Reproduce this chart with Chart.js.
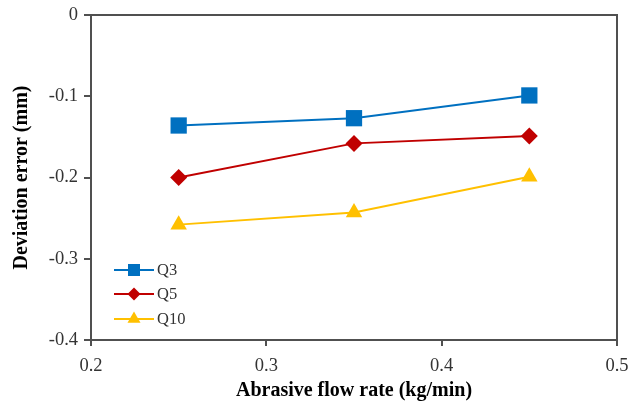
<!DOCTYPE html>
<html>
<head>
<meta charset="utf-8">
<script src="https://cdn.jsdelivr.net/npm/chart.js@4/dist/chart.umd.min.js"></script>
<style>
  html, body { margin: 0; padding: 0; background: #fff; }
  #wrap { width: 630px; height: 403px; position: relative; }
</style>
</head>
<body>
<div id="wrap"><canvas id="c" width="630" height="403"></canvas></div>
<script>
// Abrasive flow rate (kg/min) at which each series was measured
const flowRates = [0.25, 0.35, 0.45];
// Deviation error (mm) per series
const q3Values  = [-0.136, -0.127, -0.099];
const q5Values  = [-0.200, -0.158, -0.149];
const q10Values = [-0.258, -0.243, -0.199];
// Axis ticks
const xTicks = [0.2, 0.3, 0.4, 0.5];
const yTicks = [0, -0.1, -0.2, -0.3, -0.4];

const seriesNames  = ['Q3', 'Q5', 'Q10'];
const seriesValues = [q3Values, q5Values, q10Values];
const seriesColors = ['#0070C0', '#C00000', '#FFC000'];
const seriesShapes = ['rect', 'rectRot', 'triangle'];
const seriesRadius = [11.5, 8.5, 9.5];
const legendRadius = [8.5, 6.5, 7.5];

const AXIS_COLOR = '#505050';
const SERIF = "'Liberation Serif', 'Times New Roman', serif";

const datasets = seriesNames.map((name, i) => ({
  label: name,
  data: flowRates.map((x, j) => ({ x: x, y: seriesValues[i][j] })),
  borderColor: seriesColors[i],
  backgroundColor: seriesColors[i],
  pointBackgroundColor: seriesColors[i],
  pointBorderColor: seriesColors[i],
  pointStyle: seriesShapes[i],
  pointRadius: seriesRadius[i],
  pointHoverRadius: seriesRadius[i],
  pointBorderWidth: 0,
  borderWidth: 2,
  tension: 0,
  fill: false,
  legendRadius: legendRadius[i]
}));

// Closes the plot box on the top and right edges
const frame = {
  id: 'frame',
  beforeDatasetsDraw(chart) {
    const { ctx, chartArea: a } = chart;
    ctx.save();
    ctx.strokeStyle = AXIS_COLOR;
    ctx.lineWidth = 2;
    ctx.beginPath();
    ctx.moveTo(a.left, a.top);
    ctx.lineTo(a.right, a.top);
    ctx.lineTo(a.right, a.bottom);
    ctx.stroke();
    ctx.restore();
  }
};

// Legend drawn inside the plot, lower-left corner
const innerLegend = {
  id: 'innerLegend',
  afterDatasetsDraw(chart) {
    const { ctx, chartArea: a } = chart;
    const x0 = a.left + 23, x1 = a.left + 63;
    const rows = [a.top + 255, a.top + 279, a.top + 304];
    ctx.save();
    chart.data.datasets.forEach((ds, i) => {
      const y = rows[i];
      ctx.strokeStyle = ds.borderColor;
      ctx.lineWidth = 2;
      ctx.beginPath();
      ctx.moveTo(x0, y);
      ctx.lineTo(x1, y);
      ctx.stroke();
      ctx.fillStyle = ds.backgroundColor;
      ctx.strokeStyle = ds.backgroundColor;
      ctx.lineWidth = 0.01;
      Chart.helpers.drawPoint(ctx, { pointStyle: ds.pointStyle, radius: ds.legendRadius, rotation: 0, borderWidth: 0 }, (x0 + x1) / 2, y);
      ctx.fillStyle = '#333';
      ctx.font = '16.5px ' + SERIF;
      ctx.textAlign = 'left';
      ctx.textBaseline = 'middle';
      ctx.fillText(ds.label, x1 + 3, y + 1);
    });
    ctx.restore();
  }
};

new Chart(document.getElementById('c'), {
  type: 'line',
  data: { datasets },
  plugins: [frame, innerLegend],
  options: {
    responsive: false,
    animation: false,
    layout: { padding: { top: 15, right: 13, left: 0, bottom: 0 } },
    plugins: { legend: { display: false }, tooltip: { enabled: false } },
    scales: {
      x: {
        type: 'linear',
        min: 0.2, max: 0.5,
        afterBuildTicks(s) { s.ticks = xTicks.map(v => ({ value: v })); },
        afterFit(s) { s.height = 63; s.paddingLeft = 0; s.paddingRight = 0; },
        ticks: {
          callback: v => Number(v).toFixed(1),
          color: '#333',
          font: { family: SERIF, size: 18.5 },
          padding: 9,
          maxRotation: 0
        },
        grid: { drawOnChartArea: false, drawTicks: true, tickLength: 6, color: AXIS_COLOR, lineWidth: 2 },
        border: { display: true, color: AXIS_COLOR, width: 2 },
        title: {
          display: true,
          text: 'Abrasive flow rate (kg/min)',
          color: '#000',
          font: { family: SERIF, size: 20, weight: 'bold' },
          padding: { top: 0, bottom: 0 }
        }
      },
      y: {
        type: 'linear',
        min: -0.4, max: 0,
        afterBuildTicks(s) { s.ticks = yTicks.slice().reverse().map(v => ({ value: v })); },
        afterFit(s) { s.width = 91; s.paddingTop = 0; s.paddingBottom = 0; },
        ticks: {
          callback: v => (Math.abs(v) < 1e-9 ? '0' : Number(v).toFixed(1)),
          color: '#333',
          font: { family: SERIF, size: 18.5 },
          padding: 6
        },
        grid: { drawOnChartArea: false, drawTicks: true, tickLength: 7, color: AXIS_COLOR, lineWidth: 2 },
        border: { display: true, color: AXIS_COLOR, width: 2 },
        title: {
          display: true,
          text: 'Deviation error (mm)',
          color: '#000',
          font: { family: SERIF, size: 20, weight: 'bold' },
          padding: { top: 10, bottom: 0 }
        }
      }
    }
  }
});
</script>
</body>
</html>
